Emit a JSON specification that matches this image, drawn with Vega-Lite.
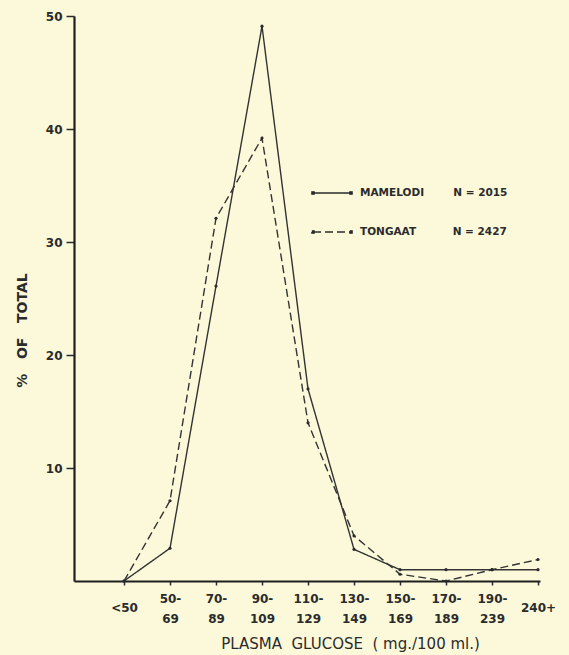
{
  "$schema": "https://vega.github.io/schema/vega-lite/v6.json",
  "width": 466,
  "height": 565,
  "autosize": {"type": "none"},
  "padding": {"left": 74, "top": 16, "right": 29, "bottom": 74},
  "background": "#fbf9da",
  "config": {
    "view": {"stroke": null},
    "font": "DejaVu Sans"
  },
  "data": {
    "values": [
      {"bin": 0, "series": "MAMELODI", "pct": 0},
      {"bin": 1, "series": "MAMELODI", "pct": 2.9},
      {"bin": 2, "series": "MAMELODI", "pct": 26.1},
      {"bin": 3, "series": "MAMELODI", "pct": 49.1},
      {"bin": 4, "series": "MAMELODI", "pct": 17},
      {"bin": 5, "series": "MAMELODI", "pct": 2.8},
      {"bin": 6, "series": "MAMELODI", "pct": 1.0},
      {"bin": 7, "series": "MAMELODI", "pct": 1.0},
      {"bin": 8, "series": "MAMELODI", "pct": 1.0},
      {"bin": 9, "series": "MAMELODI", "pct": 1.0},
      {"bin": 0, "series": "TONGAAT", "pct": 0},
      {"bin": 1, "series": "TONGAAT", "pct": 7.1},
      {"bin": 2, "series": "TONGAAT", "pct": 32.1},
      {"bin": 3, "series": "TONGAAT", "pct": 39.2},
      {"bin": 4, "series": "TONGAAT", "pct": 14},
      {"bin": 5, "series": "TONGAAT", "pct": 4},
      {"bin": 6, "series": "TONGAAT", "pct": 0.6},
      {"bin": 7, "series": "TONGAAT", "pct": 0},
      {"bin": 8, "series": "TONGAAT", "pct": 1.0},
      {"bin": 9, "series": "TONGAAT", "pct": 1.9}
    ]
  },
  "mark": {
    "type": "line",
    "color": "#333333",
    "strokeWidth": 1.4,
    "point": {"filled": true, "size": 10, "color": "#2b2b2b"}
  },
  "encoding": {
    "x": {
      "field": "bin",
      "type": "quantitative",
      "scale": {"domain": [-1.087, 9.043], "nice": false, "zero": false},
      "axis": {
        "title": "PLASMA\u00a0\u00a0GLUCOSE\u00a0\u00a0( mg./100\u00a0ml.)",
        "titleFont": "DejaVu Sans",
        "titleFontSize": 15,
        "titleFontWeight": "normal",
        "titleColor": "#2b2b2b",
        "titleX": 276,
        "titleY": 62,
        "titleBaseline": "middle",
        "titleAlign": "center",
        "values": [0, 1, 2, 3, 4, 5, 6, 7, 8, 9],
        "labelExpr": "split(['<50','50-|69','70-|89','90-|109','110-|129','130-|149','150-|169','170-|189','190-|239','240+'][datum.value], '|')",
        "labelBaseline": {"condition": {"test": "datum.value == 0 || datum.value == 9", "value": "line-top"}, "value": "middle"},
        "labelLineHeight": 20,
        "labelPadding": 13,
        "labelOverlap": false,
        "labelFlush": false,
        "labelFont": "DejaVu Sans",
        "labelFontSize": 12,
        "labelFontWeight": "bold",
        "labelColor": "#2b2b2b",
        "tickSize": 4,
        "tickColor": "#2b2b2b",
        "tickWidth": 1.5,
        "domainColor": "#1e1e1e",
        "domainWidth": 2.2,
        "grid": false
      }
    },
    "y": {
      "field": "pct",
      "type": "quantitative",
      "scale": {"domain": [0, 50], "nice": false},
      "axis": {
        "title": "%\u00a0\u00a0\u00a0OF\u00a0\u00a0\u00a0TOTAL",
        "titleFont": "DejaVu Sans",
        "titleFontSize": 14,
        "titleFontWeight": "bold",
        "titleColor": "#2b2b2b",
        "titleX": -52,
        "titleY": 314,
        "titleAlign": "center",
        "titleBaseline": "middle",
        "titleAngle": 270,
        "values": [10, 20, 30, 40, 50],
        "labelFont": "DejaVu Sans",
        "labelFontSize": 12,
        "labelFontWeight": "bold",
        "labelColor": "#2b2b2b",
        "labelPadding": 4,
        "tickSize": 8,
        "tickColor": "#2b2b2b",
        "tickWidth": 1.5,
        "domainColor": "#1e1e1e",
        "domainWidth": 2.2,
        "grid": false
      }
    },
    "strokeDash": {
      "field": "series",
      "type": "nominal",
      "scale": {"domain": ["MAMELODI", "TONGAAT"], "range": [[1, 0], [8, 4]]},
      "legend": {
        "title": null,
        "orient": "none",
        "legendX": 238,
        "legendY": 157,
        "symbolType": "M-1,0L1,0M-1.06,-0.06h0.12v0.12h-0.12zM0.94,-0.06h0.12v0.12h-0.12z",
        "symbolSize": 1444,
        "symbolStrokeWidth": 1.3,
        "symbolStrokeColor": "#2b2b2b",
        "symbolFillColor": "#2b2b2b",
        "labelFont": "DejaVu Sans",
        "labelFontSize": 10.5,
        "labelFontWeight": "bold",
        "labelColor": "#2b2b2b",
        "labelOffset": 8,
        "labelLimit": 300,
        "rowPadding": 13,
        "labelExpr": "datum.label == 'MAMELODI' ? 'MAMELODI\u00a0\u00a0\u00a0\u00a0\u00a0\u00a0\u00a0\u00a0N = 2015' : 'TONGAAT\u00a0\u00a0\u00a0\u00a0\u00a0\u00a0\u00a0\u00a0\u00a0\u00a0N = 2427'",
        "encode": {
          "symbols": {
            "update": {
              "stroke": {"value": "#2b2b2b"},
              "strokeWidth": {"value": 1.3},
              "strokeOpacity": {"value": 1},
              "fill": {"value": "#2b2b2b"},
              "opacity": {"value": 1}
            }
          }
        }
      }
    }
  }
}
